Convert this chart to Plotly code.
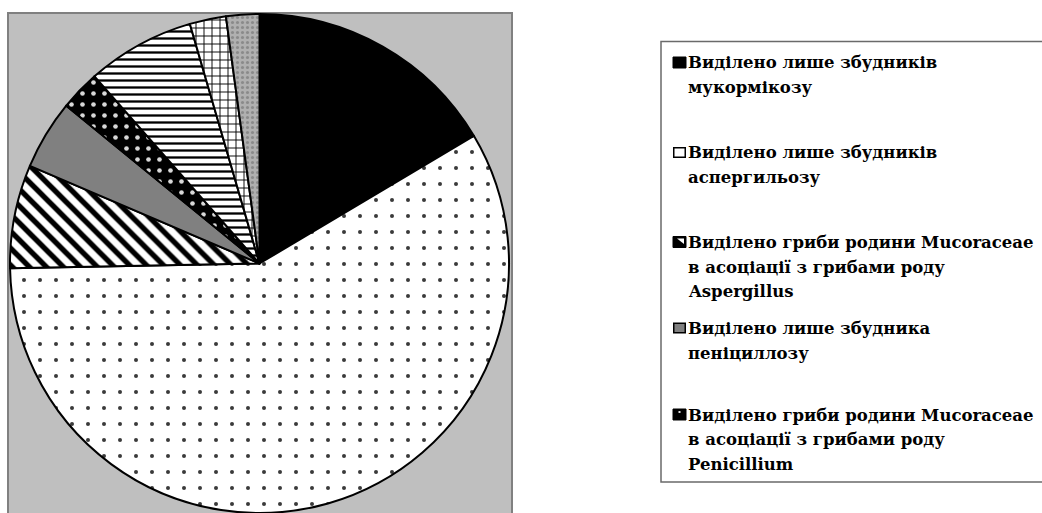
import plotly.graph_objects as go

W, H = 1042, 513

# Shares of isolates (percent), clockwise from 12 o'clock
labels = [
    "Виділено лише збудників мукормікозу",
    "Виділено лише збудників аспергильозу",
    "Виділено гриби родини Mucoraceae в асоціації з грибами роду Aspergillus",
    "Виділено лише збудника пеніциллозу",
    "Виділено гриби родини Mucoraceae в асоціації з грибами роду Penicillium",
    "Інше 1",
    "Інше 2",
    "Інше 3",
]
values = [16.45, 58.25, 6.7, 4.5, 2.6, 7.0, 2.35, 2.15]

# Legend lines (only the first five groups are listed)
legend_lines = [
    ["Виділено лише збудників", "мукормікозу"],
    ["Виділено лише збудників", "аспергильозу"],
    ["Виділено гриби родини Mucoraceae", "в асоціації з грибами роду", "Aspergillus"],
    ["Виділено лише збудника", "пеніциллозу"],
    ["Виділено гриби родини Mucoraceae", "в асоціації з грибами роду", "Penicillium"],
]

# Slice fills
base_colors = ["#000000", "#ffffff", "#ffffff", "#808080", "#000000", "#ffffff", "#ffffff", "#b0b0b0"]
pat_shapes = ["", ".", "\\", "", ".", "-", "+", "."]
pat_fg = ["#000000", "#3a3a3a", "#000000", "#000000", "#d8d8d8", "#000000", "#000000", "#8a8a8a"]
pat_size = [8, 16, 12, 8, 11, 7, 8, 5]
pat_solid = [0.3, 0.05, 0.45, 0.3, 0.14, 0.33, 0.22, 0.3]


def fx(x):
    return x / W


def fy(y):
    return 1 - y / H


fig = go.Figure()

fig.add_trace(go.Pie(
    labels=labels,
    values=values,
    sort=False,
    direction="clockwise",
    rotation=0,
    textinfo="none",
    hoverinfo="label+percent",
    showlegend=False,
    domain=dict(x=[fx(10), fx(509)], y=[0, 499 / H]),
    marker=dict(
        colors=base_colors,
        line=dict(color="#000000", width=2),
        pattern=dict(
            shape=pat_shapes,
            fgcolor=pat_fg,
            fgopacity=1,
            size=pat_size,
            solidity=pat_solid,
            fillmode="overlay",
        ),
    ),
))

shapes = []
# grey plot frame behind the pie
shapes.append(dict(type="rect", xref="paper", yref="paper", layer="below",
                   x0=fx(8), x1=fx(512), y0=fy(540), y1=fy(13),
                   fillcolor="#bfbfbf", line=dict(color="#808080", width=2)))
# legend frame
shapes.append(dict(type="rect", xref="paper", yref="paper", layer="below",
                   x0=fx(661), x1=fx(1060), y0=fy(482), y1=fy(41.5),
                   fillcolor="#ffffff", line=dict(color="#6a6a6a", width=1.5)))

item_tops = [57, 147, 236.5, 322.5, 409]
sqw, sqh = 13, 11
sx0 = 673


def rect(x0, y0, x1, y1, fill, lc="#000000", lw=1):
    return dict(type="rect", xref="paper", yref="paper", layer="above",
                x0=fx(x0), x1=fx(x1), y0=fy(y1), y1=fy(y0),
                fillcolor=fill, line=dict(color=lc, width=lw))


def path(pts, fill):
    d = "M " + " L ".join(f"{fx(x)},{fy(y)}" for x, y in pts) + " Z"
    return dict(type="path", xref="paper", yref="paper", layer="above",
                path=d, fillcolor=fill, line=dict(width=0))


t = item_tops
# 1: solid black
shapes.append(rect(sx0, t[0], sx0 + sqw, t[0] + sqh, "#000000"))
# 2: white with black border
shapes.append(rect(sx0 + 0.75, t[1] + 0.75, sx0 + sqw - 0.75, t[1] + sqh - 0.75, "#ffffff", lw=1.5))
# 3: diagonal hatch sample
shapes.append(rect(sx0, t[2], sx0 + sqw, t[2] + sqh, "#000000"))
shapes.append(path([(sx0 + 4, t[2] + 2), (sx0 + sqw - 2, t[2] + 2), (sx0 + sqw - 2, t[2] + sqh - 3.5)], "#ffffff"))
# 4: grey with black border
shapes.append(rect(sx0 + 0.75, t[3] + 0.75, sx0 + sqw - 0.75, t[3] + sqh - 0.75, "#808080", lw=1.5))
# 5: black with a light dot
shapes.append(rect(sx0, t[4], sx0 + sqw, t[4] + sqh, "#000000"))
shapes.append(rect(sx0 + 5.5, t[4] + 2, sx0 + 7.5, t[4] + 4, "#e0e0e0", lc="#e0e0e0", lw=0))

annotations = []
line_gap = 24.5
for top, lines in zip(item_tops, legend_lines):
    for k, line in enumerate(lines):
        baseline = top + 12 + k * line_gap
        annotations.append(dict(
            xref="paper", yref="paper", x=fx(687), y=fy(baseline + 4.5),
            xanchor="left", yanchor="bottom", showarrow=False, align="left",
            text=line, borderpad=0,
            font=dict(family="DejaVu Serif", size=16.5, color="#000000", weight="bold"),
        ))

fig.update_layout(
    width=W, height=H,
    margin=dict(l=0, r=0, t=0, b=0),
    paper_bgcolor="#ffffff",
    plot_bgcolor="#ffffff",
    shapes=shapes,
    annotations=annotations,
)

fig.write_html("out.html")
